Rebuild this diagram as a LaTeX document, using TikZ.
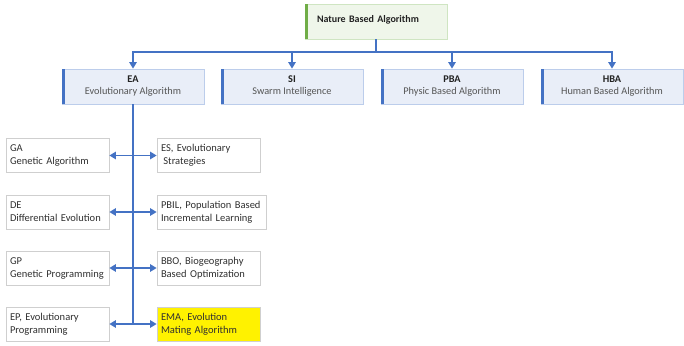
\documentclass[tikz,border=0pt]{standalone}
\usepackage{fontspec}
\setmainfont{Carlito}
\usetikzlibrary{arrows.meta}
\definecolor{lineblue}{HTML}{4472C4}
\definecolor{topfill}{HTML}{E9EEF8}
\definecolor{topborder}{HTML}{BCCDEB}
\definecolor{grfill}{HTML}{EFF6EA}
\definecolor{grborder}{HTML}{CFE5C2}
\definecolor{grbar}{HTML}{70AD47}
\definecolor{boxborder}{HTML}{CFCFCF}
\definecolor{txtdark}{HTML}{222222}
\definecolor{txtgray}{HTML}{555555}
\definecolor{txtlow}{HTML}{303030}
\begin{document}
\begin{tikzpicture}[x=1pt,y=-1pt,
  conn/.style={draw=lineblue, line width=1.3pt},
  arr/.style={conn, -{Triangle[length=6.5pt,width=7.5pt]}},
  darr/.style={conn, {Triangle[length=6.5pt,width=7.5pt]}-{Triangle[length=6.5pt,width=7.5pt]}},
  topbox/.style={draw=topborder, fill=topfill, line width=0.8pt, minimum width=142pt, minimum height=35pt, inner sep=0pt, align=center, font=\fontsize{10.3}{12}\selectfont},
  rootbox/.style={draw=grborder, fill=grfill, line width=0.8pt, minimum width=142pt, minimum height=35pt, inner xsep=0pt, text width=118pt, align=left, font=\fontsize{10}{12}\selectfont\bfseries, text=txtdark},
  lowbox/.style={draw=boxborder, fill=white, line width=0.8pt, minimum height=34pt, inner xsep=4pt, inner ysep=0pt, align=left, font=\fontsize{10.5}{13}\selectfont, text=txtlow},
]
\useasboundingbox (0,0) rectangle (684,345);
\fill[white] (0,0) rectangle (684,345);

% root
\node[rootbox] (nba) at (376,21.5) {\raisebox{5pt}{Nature Based Algorithm}};
\fill[grbar] (nba.north west) rectangle ([xshift=3.5pt]nba.south west);

% second level
\node[topbox] (ea)  at (133,86.5) {\textbf{\textcolor{txtdark}{EA}}\\\textcolor{txtgray}{Evolutionary Algorithm}};
\node[topbox] (si)  at (292,86.5) {\textbf{\textcolor{txtdark}{SI}}\\\textcolor{txtgray}{Swarm Intelligence}};
\node[topbox] (pba) at (452,86.5) {\textbf{\textcolor{txtdark}{PBA}}\\\textcolor{txtgray}{Physic Based Algorithm}};
\node[topbox] (hba) at (612,86.5) {\textbf{\textcolor{txtdark}{HBA}}\\\textcolor{txtgray}{Human Based Algorithm}};
\foreach \n in {ea,si,pba,hba}{
  \fill[lineblue] (\n.north west) rectangle ([xshift=3.5pt]\n.south west);
}

% tree connectors
\coordinate (hy) at (0,52);
\draw[conn] (nba.south) -- (nba.south |- hy);
\foreach \n in {ea,si,pba,hba}{
  \draw[arr] (nba.south |- hy) -| (\n.north);
}

% lower boxes
\node[lowbox, text width=95pt] (ga) at (57.5,155.5) {GA\\Genetic Algorithm};
\node[lowbox, text width=95pt] (es) at (208.5,155.5) {ES, Evolutionary\\\hphantom{i}Strategies};
\node[lowbox, text width=95pt] (de) at (57.5,212) {DE\\Differential Evolution};
\node[lowbox, text width=101pt] (pbil) at (211.5,212) {PBIL, Population Based\\Incremental Learning};
\node[lowbox, text width=95pt] (gp) at (57.5,268) {GP\\Genetic Programming};
\node[lowbox, text width=95pt] (bbo) at (208.5,268) {BBO, Biogeography\\Based Optimization};
\node[lowbox, text width=95pt] (ep) at (57.5,324) {EP, Evolutionary\\Programming};
\node[lowbox, text width=95pt, fill=yellow] (ema) at (208.5,324) {EMA, Evolution\\Mating Algorithm};

% vertical spine and arrows
\draw[conn] (ea.south) -- (ea.south |- ep.east);
\draw[darr] (ga.east) -- (es.west);
\draw[darr] (de.east) -- (pbil.west);
\draw[darr] (gp.east) -- (bbo.west);
\draw[darr] (ep.east) -- (ema.west);
\end{tikzpicture}
\end{document}
